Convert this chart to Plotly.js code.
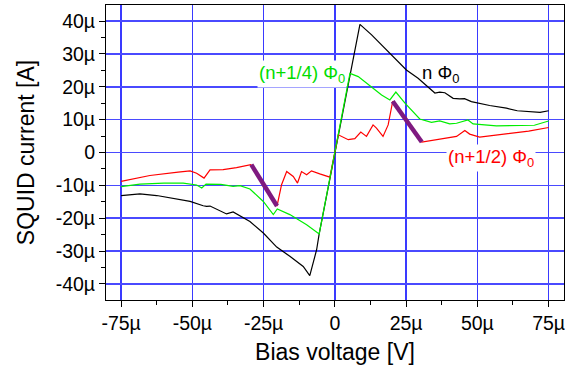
<!DOCTYPE html>
<html>
<head>
<meta charset="utf-8">
<script src="https://cdn.plot.ly/plotly-3.0.1.min.js"></script>
<style>html,body{margin:0;padding:0;background:#fff;}#chart{width:579px;height:376px;}</style>
</head>
<body>
<div id="chart"></div>
<script>
// values in micro units (µV, µA)
const nPhiX = [-75, -68.4, -62.5, -59, -52, -50.8, -46.2, -45, -43.8, -38, -35.7, -32.2, -29.8, -25.1, -20.4, -15.8, -11.1, -8.8, -6.4, -5.5, 0, 5.3, 8.8, 12.9, 19.9, 25.1, 29.2, 35.1, 36.8, 38.6, 41.5, 43.8, 45.5, 47.9, 54.3, 60.2, 64, 69.5, 72, 75];
const nPhiY = [-13.1, -12.6, -13.1, -13.7, -14.7, -14.9, -16.2, -16.4, -16.3, -18.7, -18.1, -19.9, -21, -24.5, -28.8, -31.6, -34.7, -37.5, -29.6, -24.8, 0.1, 24.1, 39.0, 35.8, 29.7, 25.1, 22.6, 18.1, 18.4, 18.2, 16.5, 16.3, 16.4, 15.5, 14.3, 13.5, 12.7, 12.2, 12.2, 12.7];

const quarterX = [-75, -68.4, -60, -53.2, -48.5, -46.7, -45.2, -40, -35.7, -33.3, -29.8, -27.5, -25.1, -21.6, -20.2, -15.8, -9.9, -5.5, 0, 5.3, 8.2, 11.7, 16.4, 19.3, 21.4, 24.6, 29.8, 33.9, 36.8, 40.3, 42.7, 46.7, 48.5, 56.7, 60.2, 66, 70, 75];
const quarterY = [-10.4, -9.6, -9.3, -9.3, -9.9, -10.8, -9.6, -9.7, -10.3, -10.1, -11.1, -12.9, -14.9, -18.9, -17.2, -18.9, -22, -24.8, 0.1, 24.1, 23.1, 20.6, 17.5, 16.0, 18.4, 15.0, 10.2, 9.2, 9.6, 8.7, 8.9, 9.9, 8.7, 8.1, 8.2, 8.2, 8.3, 9.6];

const halfX = [-75, -64.9, -55, -50.8, -48.5, -45.9, -43.8, -39.2, -34.5, -29.5, -20.3, -18.7, -16.9, -14.6, -13.1, -11.7, -9.9, -8.2, -5.3, -1.75, 1.2, 4.7, 7.0, 9.1, 11.1, 13.4, 14.6, 16.9, 18.7, 20.3, 30.5, 35.1, 38.6, 42.7, 45.6, 47.3, 50.8, 60.2, 68, 75];
const halfY = [-8.8, -7.0, -6.0, -5.6, -6.3, -7.8, -5.3, -5.2, -4.6, -3.7, -16.3, -9.8, -5.8, -7.3, -9.3, -5.8, -6.8, -5.6, -6.5, -7.5, 5.4, 3.9, 4.2, 6.2, 4.9, 8.4, 7.4, 4.9, 8.4, 15.6, 3.2, 3.9, 4.4, 4.9, 6.7, 5.6, 4.7, 5.6, 6.5, 7.6];

const jumpX = [-29.3, -20.3, null, 20.3, 30.5];
const jumpY = [-3.7, -16.3, null, 15.6, 3.2];

const xTickVals = [-75, -50, -25, 0, 25, 50, 75];
const xTickText = ['-75µ', '-50µ', '-25µ', '0', '25µ', '50µ', '75µ'];
const yTickVals = [-40, -30, -20, -10, 0, 10, 20, 30, 40];
const yTickText = ['-40µ', '-30µ', '-20µ', '-10µ', '0', '10µ', '20µ', '30µ', '40µ'];

const labelText = ['n Φ<sub>0</sub>', '(n+1/4) Φ<sub>0</sub>', '(n+1/2) Φ<sub>0</sub>'];
const labelX = [37, -11.7, 54.7];
const labelY = [24.0, 24.0, -1.6];

const FONT = 'Liberation Sans, Arial, sans-serif';

const traces = [
  {x: nPhiX, y: nPhiY, mode: 'lines', line: {color: '#000000', width: 1.2}, hoverinfo: 'skip'},
  {x: halfX, y: halfY, mode: 'lines', line: {color: '#ff0000', width: 1.2}, hoverinfo: 'skip'},
  {x: quarterX, y: quarterY, mode: 'lines', line: {color: '#00ee00', width: 1.2}, hoverinfo: 'skip'},
  {x: jumpX, y: jumpY, mode: 'lines', line: {color: '#7f1a80', width: 4.5}, connectgaps: false, hoverinfo: 'skip'}
];

const colors = ['#000000', '#00dd00', '#ff0000'];
const annotations = labelText.map((t, i) => ({
  x: labelX[i], y: labelY[i], xref: 'x', yref: 'y', text: t, showarrow: false,
  font: {family: FONT, size: 18.5, color: colors[i]},
  bgcolor: i === 0 ? 'rgba(0,0,0,0)' : '#ffffff', borderpad: 1
}));

const layout = {
  width: 579, height: 376,
  margin: {l: 106, r: 15, t: 5, b: 76},
  paper_bgcolor: '#ffffff', plot_bgcolor: '#ffffff',
  showlegend: false,
  font: {family: FONT, size: 19, color: '#000'},
  xaxis: {
    range: [-80.3, 80.4], tickvals: xTickVals, ticktext: xTickText,
    showgrid: true, gridcolor: '#3a3aff', gridwidth: 1.3, zeroline: false,
    showline: true, linecolor: '#000', linewidth: 1, mirror: true,
    ticks: 'outside', ticklen: 6, tickcolor: '#000',
    minor: {tickvals: [-62.5, -37.5, -12.5, 12.5, 37.5, 62.5], ticks: 'outside', ticklen: 4, tickcolor: '#000', showgrid: false},
    tickfont: {family: FONT, size: 19.5},
    title: {text: 'Bias voltage [V]', font: {family: FONT, size: 23}, standoff: 10}
  },
  yaxis: {
    range: [-44.9, 44.9], tickvals: yTickVals, ticktext: yTickText,
    showgrid: true, gridcolor: '#4a4aff', gridwidth: 1.5, zeroline: false,
    showline: true, linecolor: '#000', linewidth: 1, mirror: true,
    ticks: 'outside', ticklen: 6, tickcolor: '#000',
    minor: {tickvals: [-35, -25, -15, -5, 5, 15, 25, 35], ticks: 'outside', ticklen: 4, tickcolor: '#000', showgrid: false},
    tickfont: {family: FONT, size: 19.5},
    title: {text: 'SQUID current [A]', font: {family: FONT, size: 23}, standoff: 14}
  },
  annotations: annotations
};

Plotly.newPlot('chart', traces, layout, {displayModeBar: false, staticPlot: true});
</script>
</body>
</html>
